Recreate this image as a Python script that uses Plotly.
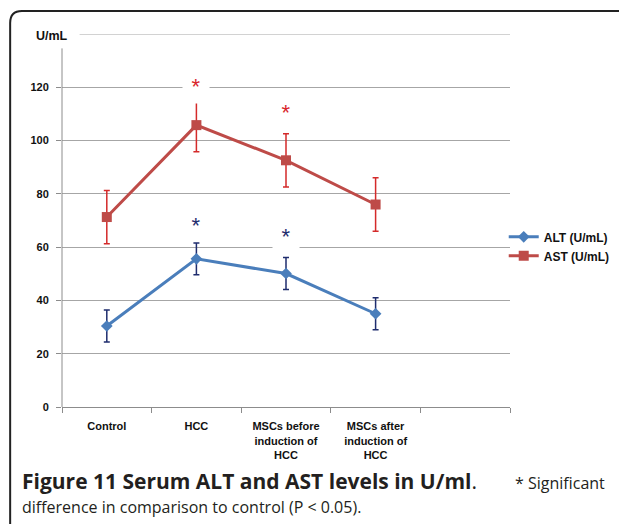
import plotly.graph_objects as go

categories = ["Control", "HCC", "MSCs before<br>induction of<br>HCC", "MSCs after<br>induction of<br>HCC", " "]
groups = categories[:4]
alt_mean = [30.4, 55.6, 50.1, 35.0]
alt_err = [6.0, 6.0, 6.0, 6.0]
ast_mean = [71.3, 105.8, 92.6, 76.0]
ast_err = [10.0, 10.0, 10.0, 10.0]
y_ticks = [0, 20, 40, 60, 80, 100, 120]
# significance markers: (category, y position)
sig_ast = [(categories[1], 121.5), (categories[2], 112.0)]
sig_alt = [(categories[1], 69.4), (categories[2], 65.2)]

ALT_LINE = "#4a7ebb"
AST_LINE = "#be4b48"
ALT_ERR = "#1f2d6e"
AST_ERR = "#d42a2a"
FONT = "Liberation Sans, Arial, sans-serif"

# page has an 8px body margin; plot area spans screen x 62..520, y 34..407
def px_x(X):
    return (X - 62) / 458

def px_y(Y):
    return (407 - Y) / 373

fig = go.Figure()
fig.add_trace(go.Scatter(
    x=groups, y=alt_mean, name="ALT (U/mL)", mode="lines+markers",
    line=dict(color=ALT_LINE, width=3),
    marker=dict(symbol="diamond", size=9, color=ALT_LINE),
    error_y=dict(type="data", array=alt_err, visible=True, color=ALT_ERR, thickness=1.5, width=3),
))
fig.add_trace(go.Scatter(
    x=groups, y=ast_mean, name="AST (U/mL)", mode="lines+markers",
    line=dict(color=AST_LINE, width=3),
    marker=dict(symbol="square", size=10, color=AST_LINE),
    error_y=dict(type="data", array=ast_err, visible=True, color=AST_ERR, thickness=1.5, width=3),
))

annotations = []
for i, (c, yv) in enumerate(sig_ast):
    annotations.append(dict(x=c, y=yv, xref="x", yref="y", text="*", showarrow=False,
                            font=dict(family=FONT, size=22, color="#d9262c"),
                            bgcolor="white", width=24, height=32 if i == 0 else 22, yshift=-3))
for i, (c, yv) in enumerate(sig_alt):
    annotations.append(dict(x=c, y=yv, xref="x", yref="y", text="*", showarrow=False,
                            font=dict(family=FONT, size=22, color=ALT_ERR),
                            bgcolor="white", width=24, height=28, yshift=-3))
annotations.append(dict(x=px_x(33), y=139.3, xref="paper", yref="y", xanchor="left", yanchor="middle",
                        text="<b>U/mL</b>", showarrow=False,
                        font=dict(family=FONT, size=12.5, color="#111")))
# caption
cap_col = "#231f20"
annotations.append(dict(x=px_x(19), y=px_y(481), xref="paper", yref="paper",
                        xanchor="left", yanchor="middle", showarrow=False,
                        font=dict(family="Open Sans, sans-serif", size=21, color=cap_col),
                        text="<b>Figure 11 Serum ALT and AST levels in U/ml</b>."))
annotations.append(dict(x=px_x(619), y=px_y(483), xref="paper", yref="paper",
                        xanchor="right", yanchor="middle", showarrow=False,
                        font=dict(family="Open Sans, sans-serif", size=16, color=cap_col),
                        text="* Significant"))
annotations.append(dict(x=px_x(19), y=px_y(507), xref="paper", yref="paper",
                        xanchor="left", yanchor="middle", showarrow=False,
                        font=dict(family="Open Sans, sans-serif", size=16, color=cap_col),
                        text="difference in comparison to control (P &lt; 0.05)."))

shapes = [
    # 140 gridline (partially hidden behind the unit label in the original)
    dict(type="line", xref="paper", yref="y", x0=px_x(80), x1=1, y0=140, y1=140,
         line=dict(color="#a6a6a6", width=1)),
    # y axis line
    dict(type="line", xref="paper", yref="y", x0=0, x1=0, y0=0, y1=134.6,
         line=dict(color="#8c8c8c", width=1)),
    # outer rounded frame
    dict(type="path", xref="paper", yref="paper",
         path="M {x0},{yb} L {x0},{yt1} Q {x0},{yt} {x1},{yt} L {xr},{yt}".format(
             x0=px_x(9), x1=px_x(21), xr=px_x(640),
             yt=px_y(11), yt1=px_y(23), yb=px_y(540)),
         line=dict(color="#222", width=2)),
]

fig.update_layout(
    width=619, height=516,
    margin=dict(l=54, r=107, t=26, b=117),
    paper_bgcolor="white", plot_bgcolor="white",
    font=dict(family=FONT, color="#111"),
    showlegend=True,
    legend=dict(x=0.986, y=0.495, xanchor="left", yanchor="top", bgcolor="rgba(0,0,0,0)",
                font=dict(family=FONT, size=12, color="#111", weight="bold"),
                tracegroupgap=0, itemwidth=30),
    annotations=annotations,
    shapes=shapes,
    xaxis=dict(type="category", categoryorder="array", categoryarray=categories,
               range=[-0.5, 4.5], tickson="boundaries", ticks="outside", ticklen=5,
               tickcolor="#8c8c8c", showline=True, linecolor="#8c8c8c", linewidth=1,
               showgrid=False, zeroline=False,
               tickfont=dict(family=FONT, size=11, color="#111", weight="bold"),
               ticklabelstandoff=9),
    yaxis=dict(range=[0, 140], tickvals=y_ticks, ticks="outside", ticklen=5,
               tickcolor="#8c8c8c", showline=False, showgrid=True, gridcolor="#a6a6a6",
               gridwidth=1, zeroline=False,
               tickfont=dict(family=FONT, size=11, color="#111", weight="bold"),
               ticklabelstandoff=5),
)

fig.write_html("out.html")
